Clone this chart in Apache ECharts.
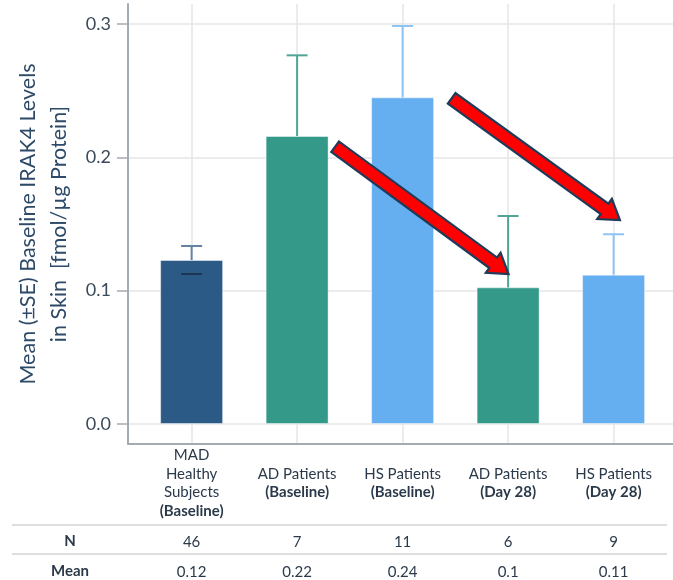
<!DOCTYPE html>
<html><head><meta charset="utf-8">
<script src="https://cdn.jsdelivr.net/npm/echarts@6/dist/echarts.min.js"></script>
<style>html,body{margin:0;padding:0;background:#fff}#c{width:673px;height:580px}</style>
</head><body><div id="c"></div>
<script>
// ---- data ----
const catTop = ['MAD\nHealthy\nSubjects', 'AD Patients', 'HS Patients', 'AD Patients', 'HS Patients'];
const catSub = ['(Baseline)', '(Baseline)', '(Baseline)', '(Day 28)', '(Day 28)'];
const means = [0.123, 0.216, 0.245, 0.1025, 0.112];
const seUpper = [0.1335, 0.2765, 0.2985, 0.156, 0.1423];
const nValues = [46, 7, 11, 6, 9];
const meanLabels = ['0.12', '0.22', '0.24', '0.1', '0.11'];
const rowHeaders = ['N', 'Mean'];
const yTicks = [0, 0.1, 0.2, 0.3];
const catIdx = [0, 1, 2, 3, 4];
// annotation arrows: [fromX, fromY, toX, toY] in data units
const arrows = [[1.36, 0.208, 3.004, 0.1125], [2.465, 0.2443, 4.06, 0.153]];

// ---- styles ----
const barColors = ['#2c5a87', '#35998a', '#65aef0', '#35998a', '#65aef0'];
const whiskerColors = ['#6584a4', '#4fa596', '#8ec4f4', '#4fa596', '#8ec4f4'];
const lowerCapColors = ['#1a3654', null, null, null, null];
const FONT = 'Lato';
const X_MIN = -0.603, X_MAX = 4.563;

const chart = echarts.init(document.getElementById('c'), null, {renderer: 'canvas'});

const catLabel = v => {
  const top = catTop[v].split('\n').map(s => '{r|' + s + '}').join('\n');
  return top + '\n{b|' + catSub[v] + '}';
};

const tableAxis = (fmt, margin) => ({
  type: 'value', gridIndex: 0, position: 'bottom', min: X_MIN, max: X_MAX,
  axisLine: {show: false}, axisTick: {show: false}, splitLine: {show: false},
  axisLabel: {customValues: catIdx, formatter: fmt, margin: margin, verticalAlign: 'middle',
    fontSize: 15, fontFamily: FONT, color: '#2b3a4a'}
});

chart.setOption({
  animation: false,
  backgroundColor: '#fff',
  grid: {left: 128, right: 0, top: 4, bottom: 136},
  xAxis: [
    {
      type: 'value', min: X_MIN, max: X_MAX,
      axisLine: {onZero: false, lineStyle: {color: '#a3abb3', width: 2}},
      axisTick: {show: false, customValues: catIdx},
      splitLine: {show: true, lineStyle: {color: '#e6e6e6', width: 1.5}},
      axisLabel: {
        customValues: catIdx, formatter: catLabel, margin: 39, verticalAlign: 'middle',
        rich: {
          r: {fontSize: 15, lineHeight: 18.5, fontFamily: FONT, color: '#2b3a4a'},
          b: {fontSize: 15, lineHeight: 18.5, fontFamily: FONT, color: '#2b3a4a', fontWeight: 'bold'}
        }
      }
    },
    tableAxis(v => String(nValues[v]), 98),
    tableAxis(v => meanLabels[v], 128)
  ],
  yAxis: {
    type: 'value', min: -0.015, max: 0.315,
    name: 'Mean (±SE) Baseline IRAK4 Levels\nin Skin  [fmol/µg Protein]',
    nameLocation: 'middle', nameGap: 50,
    nameTextStyle: {fontSize: 21.5, lineHeight: 31, fontFamily: FONT, color: '#2d4a68'},
    axisLine: {show: true, onZero: false, lineStyle: {color: '#a3abb3', width: 2}},
    axisTick: {show: true, customValues: yTicks, length: 11, lineStyle: {color: '#a3abb3', width: 1.5}},
    splitLine: {show: true, lineStyle: {color: '#e6e6e6', width: 1.5}},
    axisLabel: {customValues: yTicks, formatter: v => v.toFixed(1), margin: 17,
      fontSize: 18, fontFamily: FONT, color: '#3b4a59'}
  },
  graphic: [
    {type: 'line', shape: {x1: 12, y1: 525, x2: 667, y2: 525}, style: {stroke: '#dedede', lineWidth: 2}},
    {type: 'line', shape: {x1: 12, y1: 554, x2: 667, y2: 554}, style: {stroke: '#dedede', lineWidth: 2}},
    {type: 'text', x: 70, y: 541.5, style: {text: rowHeaders[0], align: 'center', verticalAlign: 'middle',
      font: 'bold 15px Lato', fill: '#2b3a4a'}},
    {type: 'text', x: 70, y: 571.5, style: {text: rowHeaders[1], align: 'center', verticalAlign: 'middle',
      font: 'bold 15px Lato', fill: '#2b3a4a'}}
  ],
  series: [
    {
      type: 'bar', xAxisIndex: 0, yAxisIndex: 0, barWidth: 63, z: 2,
      data: means.map((m, i) => ({value: [i, m], itemStyle: {color: barColors[i]}})),
      itemStyle: {borderColor: 'rgba(255,255,255,0.45)', borderWidth: 1}
    },
    {
      type: 'custom', xAxisIndex: 0, yAxisIndex: 0, z: 3,
      data: means.map((m, i) => [i, m, seUpper[i]]),
      renderItem: (params, api) => {
        const idx = params.dataIndex;
        const i = api.value(0), m = api.value(1), u = api.value(2);
        const p0 = api.coord([i, m]), p1 = api.coord([i, u]), pl = api.coord([i, 2 * m - u]);
        const hw = 10.5;
        const st = {stroke: whiskerColors[idx], lineWidth: 2};
        const ch = [
          {type: 'line', shape: {x1: p0[0], y1: p0[1], x2: p1[0], y2: p1[1]}, style: st},
          {type: 'line', shape: {x1: p1[0] - hw, y1: p1[1], x2: p1[0] + hw, y2: p1[1]}, style: st}
        ];
        if (lowerCapColors[idx]) {
          ch.push({type: 'line', shape: {x1: pl[0] - hw, y1: pl[1], x2: pl[0] + hw, y2: pl[1]},
            style: {stroke: lowerCapColors[idx], lineWidth: 2}});
        }
        return {type: 'group', children: ch};
      }
    },
    {
      type: 'custom', xAxisIndex: 0, yAxisIndex: 0, z: 4, silent: true,
      data: arrows,
      renderItem: (params, api) => {
        const p = api.coord([api.value(0), api.value(1)]);
        const q = api.coord([api.value(2), api.value(3)]);
        const dx = q[0] - p[0], dy = q[1] - p[1];
        const len = Math.hypot(dx, dy);
        const ux = dx / len, uy = dy / len, nx = -uy, ny = ux;
        const w = 6.5, h = 12.5, L = 19;
        const bx = q[0] - ux * L, by = q[1] - uy * L;
        const pts = [
          [p[0] + nx * w, p[1] + ny * w], [bx + nx * w, by + ny * w], [bx + nx * h, by + ny * h],
          [q[0], q[1]],
          [bx - nx * h, by - ny * h], [bx - nx * w, by - ny * w], [p[0] - nx * w, p[1] - ny * w]
        ];
        return {type: 'polygon', shape: {points: pts},
          style: {fill: '#ff0000', stroke: '#1f3b5a', lineWidth: 2.2, lineJoin: 'miter'}};
      }
    }
  ]
});
</script>
</body></html>
